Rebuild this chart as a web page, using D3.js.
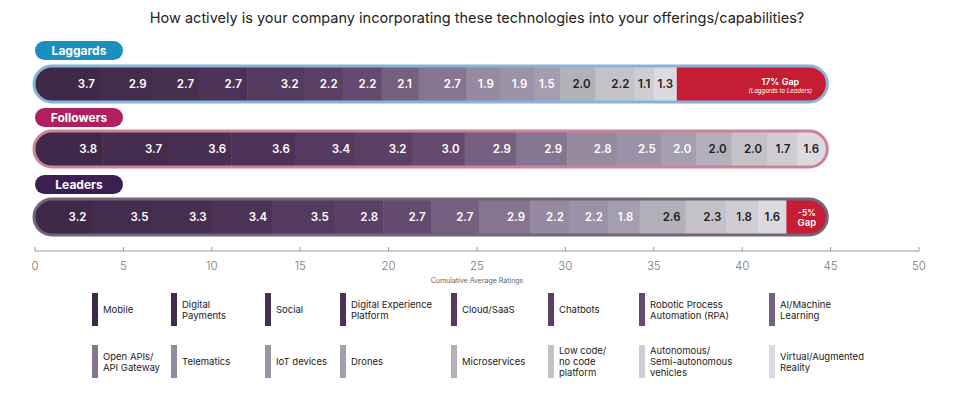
<!DOCTYPE html>
<html>
<head>
<meta charset="utf-8">
<script src="https://cdn.jsdelivr.net/npm/d3@7"></script>
<style>
  body { margin: 0; background: #fff; }
  svg { font-family: "Inter", "Open Sans", sans-serif; }
</style>
</head>
<body>
<div id="chart"></div>
<script>
// technologies, in stacking order
var techs = ["Mobile", "Digital Payments", "Social", "Digital Experience Platform", "Cloud/SaaS", "Chatbots",
  "Robotic Process Automation (RPA)", "AI/Machine Learning", "Open APIs/ API Gateway", "Telematics", "IoT devices",
  "Drones", "Microservices", "Low code/ no code platform", "Autonomous/ Semi-autonomous vehicles", "Virtual/Augmented Reality"];
var techLines = [["Mobile"], ["Digital", "Payments"], ["Social"], ["Digital Experience", "Platform"], ["Cloud/SaaS"], ["Chatbots"],
  ["Robotic Process", "Automation (RPA)"], ["AI/Machine", "Learning"], ["Open APIs/", "API Gateway"], ["Telematics"], ["IoT devices"],
  ["Drones"], ["Microservices"], ["Low code/", "no code", "platform"], ["Autonomous/", "Semi-autonomous", "vehicles"], ["Virtual/Augmented", "Reality"]];
var techColors = ["#3e2a48", "#432c4e", "#472f52", "#4c3256", "#553a5f", "#5b4066", "#654a6f", "#75607f",
  "#857590", "#958aa0", "#9a92a6", "#a49eae", "#b3b0b9", "#c4c1c9", "#cfccd4", "#dcdae0"];

var groups = ["Laggards", "Followers", "Leaders"];
var laggards  = [3.7, 2.9, 2.7, 2.7, 3.2, 2.2, 2.2, 2.1, 2.7, 1.9, 1.9, 1.5, 2.0, 2.2, 1.1, 1.3];
var followers = [3.8, 3.7, 3.6, 3.6, 3.4, 3.2, 3.0, 2.9, 2.9, 2.8, 2.5, 2.0, 2.0, 2.0, 1.7, 1.6];
var leaders   = [3.2, 3.5, 3.3, 3.4, 3.5, 2.8, 2.7, 2.7, 2.9, 2.2, 2.2, 1.8, 2.6, 2.3, 1.8, 1.6];
var gapTitles = ["17% Gap", null, "-5% Gap"];
var gapNotes  = ["(Laggards to Leaders)", null, null];
var groupColors = ["#1b8fc0", "#b0205e", "#3b1f52"];
var outlineColors = ["#86b3d6", "#cd8299", "#716679"];
var axisTicks = [0, 5, 10, 15, 20, 25, 30, 35, 40, 45, 50];

var width = 960, height = 399;
var svg = d3.select("#chart").append("svg").attr("width", width).attr("height", height);

var x = d3.scaleLinear().domain([0, 50]).range([35, 919]);
var series = [laggards, followers, leaders];
var rowY = [84, 149, 217];   // bar centres
var pillY = [41, 108, 175];
var barH = 36;
var fullTotal = d3.max(series, function(s) { return d3.sum(s); });

svg.append("text")
  .attr("x", 477).attr("y", 23)
  .attr("text-anchor", "middle")
  .style("font-size", "14.5px").style("fill", "#222")
  .text("How actively is your company incorporating these technologies into your offerings/capabilities?");

series.forEach(function(vals, gi) {
  var cy = rowY[gi];
  var top = cy - barH / 2;
  var x0 = x(0) - 1, x1 = x(fullTotal) + 2;
  var clipId = "clip" + gi;
  svg.append("clipPath").attr("id", clipId)
    .append("rect").attr("x", x0).attr("y", top).attr("width", x1 - x0).attr("height", barH)
    .attr("rx", barH / 2);

  var stack = [];
  var acc = 0;
  vals.forEach(function(v, i) { stack.push({v: v, s: acc, e: acc + v, i: i}); acc += v; });

  var g = svg.append("g").attr("clip-path", "url(#" + clipId + ")");
  g.selectAll("rect.seg").data(stack).enter().append("rect")
    .attr("class", "seg")
    .attr("x", function(d) { return d.i === 0 ? x0 : x(d.s); })
    .attr("y", top).attr("height", barH)
    .attr("width", function(d) { return x(d.e) - (d.i === 0 ? x0 : x(d.s)) + 0.5; })
    .style("fill", function(d) { return techColors[d.i]; });

  if (gapTitles[gi]) {
    g.append("rect")
      .attr("x", x(acc)).attr("y", top).attr("height", barH)
      .attr("width", x1 - x(acc))
      .style("fill", "#c41d34");
  }

  // outline
  svg.append("rect").attr("x", x0).attr("y", top).attr("width", x1 - x0).attr("height", barH)
    .attr("rx", barH / 2)
    .style("fill", "none").style("stroke", outlineColors[gi]).style("stroke-width", 3);

  svg.selectAll("text.val" + gi).data(stack).enter().append("text")
    .attr("class", "val" + gi)
    .attr("x", function(d) { return Math.max((x(d.s) + x(d.e)) / 2, x(d.e) - 14); })
    .attr("y", cy + 4)
    .attr("text-anchor", "middle")
    .style("font-size", "11.5px").style("font-weight", 600)
    .style("fill", function(d) { return d.i >= 12 ? "#1e1e1e" : "#fff"; })
    .text(function(d) { return d.v.toFixed(1); });

  if (gapTitles[gi]) {
    var gx = gapNotes[gi] ? x1 - 47 : (x(acc) + x1) / 2;
    if (gapNotes[gi]) {
      svg.append("text").attr("x", gx).attr("y", cy + 1).attr("text-anchor", "middle")
        .style("font-size", "9px").style("font-weight", 600).style("fill", "#fff").text(gapTitles[gi]);
      svg.append("text").attr("x", gx).attr("y", cy + 9).attr("text-anchor", "middle")
        .style("font-size", "6px").style("font-style", "italic").style("fill", "#fff").text(gapNotes[gi]);
    } else {
      var parts = gapTitles[gi].split(" ");
      svg.append("text").attr("x", gx).attr("y", cy - 1).attr("text-anchor", "middle")
        .style("font-size", "8.5px").style("font-weight", 600).style("fill", "#fff").text(parts[0]);
      svg.append("text").attr("x", gx).attr("y", cy + 9).attr("text-anchor", "middle")
        .style("font-size", "9.5px").style("font-weight", 600).style("fill", "#fff").text(parts[1]);
    }
  }

  // group pill
  svg.append("rect").attr("x", 35).attr("y", pillY[gi]).attr("width", 88).attr("height", 19)
    .attr("rx", 9.5).style("fill", groupColors[gi]);
  svg.append("text").attr("x", 79).attr("y", pillY[gi] + 14).attr("text-anchor", "middle")
    .style("font-size", "12px").style("font-weight", 700).style("fill", "#fff").text(groups[gi]);
});

// axis
var axisG = svg.append("g").attr("transform", "translate(0,251)");
axisG.append("line").attr("x1", x(0)).attr("x2", x(50)).attr("y1", 0).attr("y2", 0)
  .style("stroke", "#999").style("stroke-width", 1);
axisG.selectAll("line.tick").data(axisTicks).enter().append("line")
  .attr("x1", function(d) { return x(d); }).attr("x2", function(d) { return x(d); })
  .attr("y1", -4).attr("y2", 0).style("stroke", "#999");
axisG.selectAll("text.tick").data(axisTicks).enter().append("text")
  .attr("x", function(d) { return x(d); }).attr("y", 19)
  .attr("text-anchor", "middle")
  .style("font-size", "11.5px").style("font-weight", 300).style("fill", "#777")
  .text(function(d) { return d; });
svg.append("text").attr("x", 477).attr("y", 283).attr("text-anchor", "middle")
  .style("font-size", "7px").style("fill", "#666").text("Cumulative Average Ratings");

// legend
var legCols = [92, 171, 265, 340, 451, 548, 639, 769];
var legRows = [293, 345];
var leg = svg.selectAll("g.leg").data(techs).enter().append("g")
  .attr("class", "leg")
  .attr("transform", function(d, i) { return "translate(" + legCols[i % 8] + "," + legRows[Math.floor(i / 8)] + ")"; });
leg.append("rect").attr("width", 6).attr("height", 33)
  .style("fill", function(d, i) { return techColors[i]; });
leg.each(function(d, i) {
  var lines = techLines[i];
  var t = d3.select(this).append("text")
    .style("font-size", "9.5px").style("fill", "#222");
  var y0 = 16.5 - (lines.length - 1) * 5.5 + 3.5;
  lines.forEach(function(l, k) {
    t.append("tspan").attr("x", 11).attr("y", y0 + k * 11).text(l);
  });
});
</script>
</body>
</html>
